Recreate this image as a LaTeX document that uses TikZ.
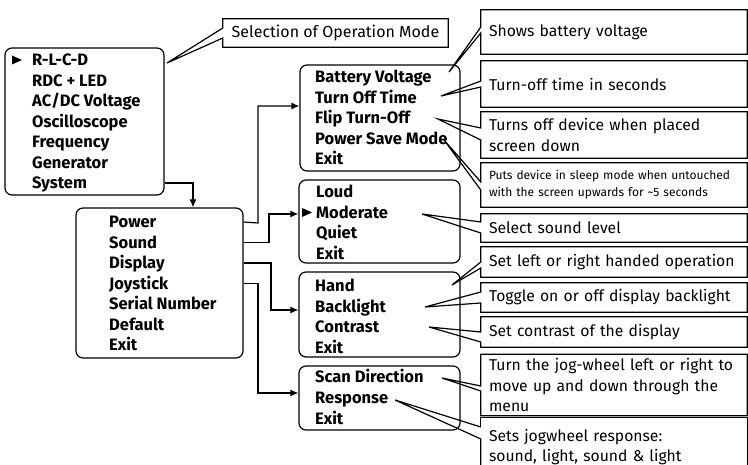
\documentclass[tikz,border=0pt]{standalone}
\usepackage{fontspec}
\setmainfont{Fira Sans}
\usetikzlibrary{arrows.meta}

\tikzset{
    menubox/.style={draw, line width=1.2pt, rounded corners=7pt, inner sep=0pt},
    item/.style={anchor=west, inner sep=0pt, text height=11.4pt, text depth=0pt,
        font=\bfseries\fontsize{16.5}{18}\selectfont},
    note/.style={inner xsep=8pt, inner ysep=0pt, text width=250pt, align=left,
        minimum width=266pt, font=\fontsize{15.7}{20.5}\selectfont},
    smallnote/.style={note, font=\fontsize{12}{17}\selectfont},
    arr/.style={line width=1.2pt, -{Latex[length=8pt,width=7pt]}},
    ptr/.style={line width=1.2pt},
}

% frame of a note: node, top and bottom of the notch, tip
\newcommand\noteframe[4]{%
    \draw[ptr] (#1.west |- 0,#2) -- (#4) -- (#1.west |- 0,#3) |- (#1.south east)
        |- (#1.north west) -- cycle;
}

\begin{document}
\begin{tikzpicture}[x=1pt, y=-1pt]
    \useasboundingbox (0,0) rectangle (748,465);

    % menus
    \node[menubox, minimum width=159, minimum height=147] (mainbox) at (84.5,121.5) {};
    \node[menubox, minimum width=167, minimum height=150] (sysbox) at (159.5,283) {};
    \node[menubox, minimum width=160, minimum height=106] (pwrbox) at (380,118) {};
    \node[menubox, minimum width=161, minimum height=83] (sndbox) at (379.5,221.5) {};
    \node[menubox, minimum width=161, minimum height=85] (disbox) at (379.5,314.5) {};
    \node[menubox, minimum width=161, minimum height=64] (joybox) at (379.5,398) {};

    \foreach \t [count=\i] in {R-L-C-D, RDC + LED, AC/DC Voltage, Oscilloscope, Frequency, Generator, System}
        \node[item] (mode\i) at (32, 39.5+20.5*\i) {\t};
    \foreach \t [count=\i] in {Power, Sound, Display, Joystick, Serial Number, Default, Exit}
        \node[item] (set\i) at (109, 201.5+20.5*\i) {\t};
    \foreach \t [count=\i] in {Battery Voltage, Turn Off Time, Flip Turn-Off, Power Save Mode, Exit}
        \node[item] (pwr\i) at (315, 56.5+20.5*\i) {\t};
    \foreach \t [count=\i] in {Loud, Moderate, Quiet, Exit}
        \node[item] (snd\i) at (316, 171.5+20.5*\i) {\t};
    \foreach \t [count=\i] in {Hand, Backlight, Contrast, Exit}
        \node[item] (dis\i) at (315, 265.5+20.5*\i) {\t};
    \foreach \t [count=\i] in {Scan Direction, Response, Exit}
        \node[item] (joy\i) at (315, 356+21*\i) {\t};

    % selected entries
    \fill (12,55.5) -- (22,60) -- (12,64.5) -- cycle;
    \fill (302,208) -- (312,212.5) -- (302,217) -- cycle;

    % menu links
    \draw[arr] (mode7.east -| mainbox.east) -| (sysbox.north -| 193,0);
    \draw[arr] (set1.east -| sysbox.east) -- (258,223) |- (pwrbox.west |- 0,106);
    \draw[arr] (set2.east -| sysbox.east) -- (269,242.5) |- (sndbox.west |- 0,214);
    \draw[arr] (set3.east -| sysbox.east) -- (271,263) |- (disbox.west |- 0,310);
    \draw[arr] (set4.east -| sysbox.east) -- (258,283.5) |- (joybox.west |- 0,393);

    % notes
    \node[minimum width=225, minimum height=28, inner sep=0pt,
        font=\fontsize{16}{20.5}\selectfont] (cMode) at (335.5,33) {Selection of Operation Mode};
    \node[note, minimum height=44] (cBatt) at (614,32) {Shows battery voltage};
    \node[note, minimum height=46] (cTime) at (614,84) {Turn-off time in seconds};
    \node[note, minimum height=46] (cFlip) at (614,135) {Turns off device when placed\\screen down};
    \node[smallnote, minimum height=44] (cSave) at (614,185) {Puts device in sleep mode when untouched\\with the screen upwards for \textasciitilde5 seconds};
    \node[note, minimum height=28] (cSound) at (614,228) {Select sound level};
    \node[note, minimum height=30] (cHand) at (614,262) {Set left or right handed operation};
    \node[note, minimum height=29] (cLight) at (614,297.5) {Toggle on or off display backlight};
    \node[note, minimum height=30] (cCont) at (614,332) {Set contrast of the display};
    \node[note, minimum height=61] (cScan) at (614,385) {Turn the jog-wheel left or right to\\move up and down through the\\menu};
    \node[note, minimum height=58] (cResp) at (614,447) {Sets jogwheel response:\\sound, light, sound \& light};

    \coordinate (tMode) at (167,63);
    \coordinate (tBatt) at (449,72);
    \coordinate (tTime) at (441,96);
    \coordinate (tFlip) at (438,119);
    \coordinate (tSave) at (444,140);
    \coordinate (tSound) at (422,214);
    \coordinate (tHand) at (452,285);
    \coordinate (tLight) at (425,307);
    \coordinate (tCont) at (429,327);
    \coordinate (tScan) at (442,378);
    \coordinate (tResp) at (395,400);

    \noteframe{cMode}{28}{38}{tMode}
    \noteframe{cBatt}{27}{33}{tBatt}
    \noteframe{cTime}{81}{87}{tTime}
    \noteframe{cFlip}{128}{140}{tFlip}
    \noteframe{cSave}{182}{190}{tSave}
    \noteframe{cSound}{222}{233}{tSound}
    \noteframe{cHand}{262}{268}{tHand}
    \noteframe{cLight}{292}{303}{tLight}
    \noteframe{cCont}{332}{342}{tCont}
    \noteframe{cScan}{386}{391}{tScan}
    \draw[ptr] (cResp.west |- 0,427) -- (tResp) -- (cResp.west |- 0,439) -- (cResp.west |- 0,465);
    \draw[ptr] (cResp.west |- 0,427) |- (cResp.north east) -- (cResp.east |- 0,465);
\end{tikzpicture}
\end{document}
